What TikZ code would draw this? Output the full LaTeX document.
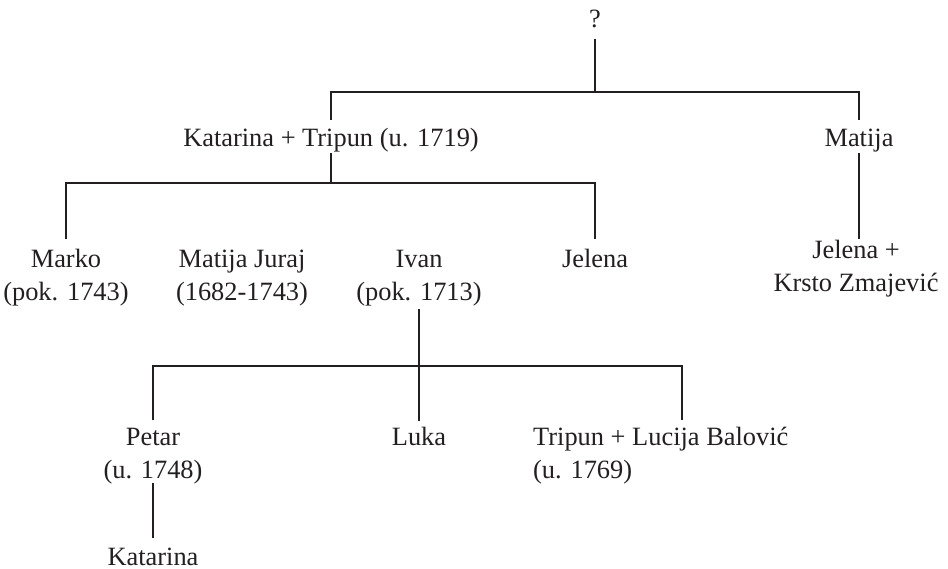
\documentclass[tikz,border=0pt]{standalone}
\usepackage{fontspec}
\setmainfont{Liberation Serif}
\usetikzlibrary{calc}
\definecolor{ink}{HTML}{231F20}
\tikzset{
  person/.style={inner sep=0pt, anchor=base, align=center, text=ink,
                 font=\fontsize{26.4}{33}\selectfont},
  personleft/.style={person, anchor=base west, align=left},
  link/.style={draw=ink, line width=1.1pt}
}
\begin{document}
\begin{tikzpicture}[x=1pt, y=-1pt]
\useasboundingbox (0,0) rectangle (948,569);

% generation 0
\node[person] (q) at (595,28) {?};

% generation 1
\node[person] (kt)  at (331,147) {Katarina + Tripun (u. 1719)};
\node[person] (mat) at (859,147) {Matija};

% generation 2 (two-line nodes sit on the baseline of their last line)
\node[person] (marko) at (66,301)  {Marko\\(pok. 1743)};
\node[person] (mj)    at (242,301) {Matija Juraj\\(1682-1743)};
\node[person] (ivan)  at (419,301) {Ivan\\(pok. 1713)};
\node[person] (jel)   at (595,268) {Jelena};
\node[person] (jk)    at (856,292) {Jelena +\\Krsto Zmajević};

% generation 3
\node[person] (petar) at (153,478) {Petar\\(u. 1748)};
\node[person] (luka)  at (419,445) {Luka};
\node[personleft] (tl) at (533,478) {Tripun + Lucija Balović\\(u. 1769)};

% generation 4
\node[person] (kat) at (153,565) {Katarina};

% junction points of the family bars
\coordinate (b0) at ($(q.base)+(0,64)$);
\coordinate (b1) at ($(kt.base)+(0,36)$);
\coordinate (b2) at ($(ivan.base)+(0,65)$);
\coordinate (tlc) at ($(tl.base west)+(149,-58)$);

% connectors
\draw[link] ($(q.base)+(0,11)$) -- (b0);
\draw[link] ($(kt.base)+(0,-27)$) |- (b0) -| ($(mat.base)+(0,-27)$);

\draw[link] ($(kt.base)+(0,6)$) -- (b1);
\draw[link] ($(marko.base)+(0,-62)$) |- (b1) -| ($(jel.base)+(0,-29)$);

\draw[link] ($(mat.base)+(0,6)$) -- ($(mat.base |- jk.base)+(0,-53)$);

\draw[link] ($(ivan.base)+(0,8)$) -- ($(luka.base)+(0,-24)$);
\draw[link] ($(petar.base)+(0,-58)$) |- (b2) -| (tlc);

\draw[link] ($(petar.base)+(0,5)$) -- ($(kat.base)+(0,-27)$);
\end{tikzpicture}
\end{document}
